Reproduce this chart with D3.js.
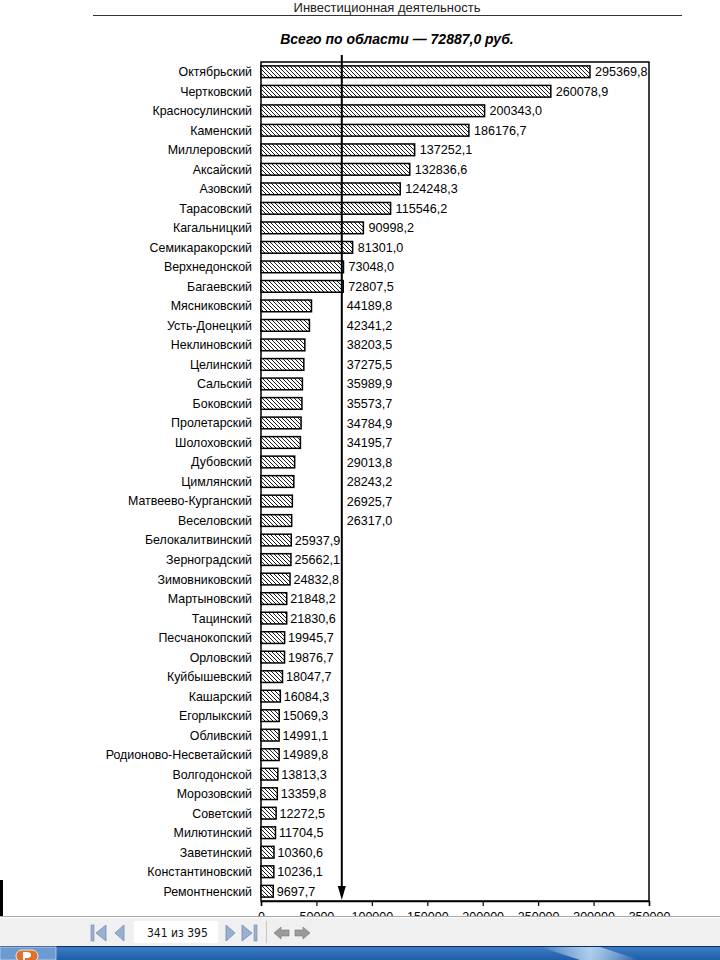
<!DOCTYPE html>
<html><head><meta charset="utf-8">
<script src="https://cdn.jsdelivr.net/npm/d3@7"></script>
<style>html,body{margin:0;padding:0;background:#fff;}svg{display:block;}</style>
</head><body>
<script>
const districts = ["Октябрьский","Чертковский","Красносулинский","Каменский","Миллеровский","Аксайский","Азовский","Тарасовский","Кагальницкий","Семикаракорский","Верхнедонской","Багаевский","Мясниковский","Усть-Донецкий","Неклиновский","Целинский","Сальский","Боковский","Пролетарский","Шолоховский","Дубовский","Цимлянский","Матвеево-Курганский","Веселовский","Белокалитвинский","Зерноградский","Зимовниковский","Мартыновский","Тацинский","Песчанокопский","Орловский","Куйбышевский","Кашарский","Егорлыкский","Обливский","Родионово-Несветайский","Волгодонской","Морозовский","Советский","Милютинский","Заветинский","Константиновский","Ремонтненский"];
const values = [295369.8,260078.9,200343.0,186176.7,137252.1,132836.6,124248.3,115546.2,90998.2,81301.0,73048.0,72807.5,44189.8,42341.2,38203.5,37275.5,35989.9,35573.7,34784.9,34195.7,29013.8,28243.2,26925.7,26317.0,25937.9,25662.1,24832.8,21848.2,21830.6,19945.7,19876.7,18047.7,16084.3,15069.3,14991.1,14989.8,13813.3,13359.8,12272.5,11704.5,10360.6,10236.1,9697.7];
const regionAverage = 72887.0;
const xTicks = [0,50000,100000,150000,200000,250000,300000,350000];
const headerText = "Инвестиционная деятельность";
const titleText = "Всего по области — 72887,0 руб.";
const pageText = "341 из 395";

const W = 720, H = 960;
const svg = d3.select("body").append("svg").attr("width", W).attr("height", H);
const font = "'Liberation Sans', Arial, sans-serif";

const defs = svg.append("defs");
const pat = defs.append("pattern").attr("id","hatch").attr("patternUnits","userSpaceOnUse")
  .attr("width",4).attr("height",4);
pat.append("rect").attr("width",4).attr("height",4).attr("fill","#fff");
pat.append("path").attr("d","M-1,-1L5,5M3,-1L5,1M-1,3L1,5").attr("stroke","#000").attr("stroke-width",0.9);

const x = d3.scaleLinear().domain([0,350000]).range([261,649]);
const y = d3.scaleBand().domain(districts).range([62,901]).paddingInner(0.4).paddingOuter(0.2);

// header
svg.append("text").attr("x",387).attr("y",12).attr("text-anchor","middle")
  .attr("font-family",font).attr("font-size",13).attr("fill","#222").text(headerText);
svg.append("line").attr("x1",93).attr("x2",682).attr("y1",15.5).attr("y2",15.5).attr("stroke","#333").attr("stroke-width",1);
svg.append("text").attr("x",397).attr("y",44).attr("text-anchor","middle")
  .attr("font-family",font).attr("font-size",14).attr("font-weight","bold").attr("font-style","italic").text(titleText);

// frame
svg.append("rect").attr("x",261).attr("y",62).attr("width",388).attr("height",839)
  .attr("fill","none").attr("stroke","#000").attr("stroke-width",1.5);

// bars
const data = districts.map((d,i)=>({name:d, value:values[i]}));
svg.append("g").selectAll("rect").data(data).join("rect")
  .attr("x",x(0)).attr("y",d=>y(d.name)).attr("width",d=>x(d.value)-x(0)+1.5).attr("height",y.bandwidth())
  .attr("fill","url(#hatch)").attr("stroke","#000").attr("stroke-width",1.5);

// category labels
svg.append("g").selectAll("text").data(data).join("text")
  .attr("x",252).attr("y",d=>y(d.name)+y.bandwidth()/2).attr("dy","0.36em").attr("text-anchor","end")
  .attr("font-family",font).attr("font-size",12.4).text(d=>d.name);

// value labels
const fmt = v => d3.format(".1f")(v).replace(".",",");
svg.append("g").selectAll("text").data(data).join("text")
  .attr("x",d=> d.value >= 26000 ? Math.max(x(d.value)+1.5, x(regionAverage)) + 5 : x(d.value) + 5)
  .attr("y",d=>y(d.name)+y.bandwidth()/2).attr("dy","0.36em")
  .attr("font-family",font).attr("font-size",12.6).text(d=>fmt(d.value));

// average arrow
const ax = x(regionAverage);
svg.append("line").attr("x1",ax).attr("x2",ax).attr("y1",55).attr("y2",890).attr("stroke","#000").attr("stroke-width",2);
svg.append("path").attr("d",`M${ax-4},886L${ax+4},886L${ax},900Z`).attr("fill","#000");

// x axis
const axisG = svg.append("g").attr("transform","translate(0,901)")
  .call(d3.axisBottom(x).tickValues(xTicks).tickSize(5).tickPadding(6).tickFormat(d=>String(d)));
axisG.select(".domain").attr("stroke","#000").attr("stroke-width",1.5);
axisG.selectAll(".tick line").attr("stroke","#000").attr("stroke-width",1.2);
axisG.selectAll("text").attr("font-family",font).attr("font-size",12.5).attr("fill","#000");

// viewer toolbar overlay
svg.append("rect").attr("x",0).attr("y",916).attr("width",W).attr("height",30).attr("fill","#f0f0f0");
svg.append("line").attr("x1",0).attr("x2",W).attr("y1",916.5).attr("y2",916.5).attr("stroke","#a8a8a8");
svg.append("line").attr("x1",0).attr("x2",W).attr("y1",917.5).attr("y2",917.5).attr("stroke","#ffffff");
svg.append("rect").attr("x",0).attr("y",880).attr("width",3).attr("height",36).attr("fill","#000");
const ic = "#9ab0cf", icS = "#6f8cb6";
// first
svg.append("rect").attr("x",91).attr("y",925).attr("width",3).attr("height",16).attr("fill",ic).attr("stroke",icS).attr("stroke-width",0.6);
svg.append("path").attr("d","M106,925L96,933L106,941Z").attr("fill",ic).attr("stroke",icS).attr("stroke-width",0.8);
// prev
svg.append("path").attr("d","M124,925L115,933L124,941Z").attr("fill",ic).attr("stroke",icS).attr("stroke-width",0.8);
// page box
svg.append("rect").attr("x",134).attr("y",921).attr("width",84).attr("height",22).attr("fill","#fff");
svg.append("text").attr("x",147).attr("y",937).attr("font-family","'DejaVu Sans Condensed','Liberation Sans Narrow',sans-serif").attr("font-size",12).attr("fill","#111").text(pageText);
// next
svg.append("path").attr("d","M226,925L235,933L226,941Z").attr("fill",ic).attr("stroke",icS).attr("stroke-width",0.8);
// last
svg.append("path").attr("d","M242,925L252,933L242,941Z").attr("fill",ic).attr("stroke",icS).attr("stroke-width",0.8);
svg.append("rect").attr("x",254).attr("y",925).attr("width",3).attr("height",16).attr("fill",ic).attr("stroke",icS).attr("stroke-width",0.6);
svg.append("line").attr("x1",266.5).attr("x2",266.5).attr("y1",921).attr("y2",943).attr("stroke","#c8c8c8");
// back / forward arrows
svg.append("path").attr("d","M274,933L281,927L281,930L289,930L289,936L281,936L281,939Z").attr("fill","#9a9a9a").attr("stroke","#777").attr("stroke-width",0.6);
svg.append("path").attr("d","M310,933L303,927L303,930L295,930L295,936L303,936L303,939Z").attr("fill","#9a9a9a").attr("stroke","#777").attr("stroke-width",0.6);

// taskbar
const tg = defs.append("linearGradient").attr("id","task").attr("x1",0).attr("x2",0).attr("y1",0).attr("y2",1);
tg.append("stop").attr("offset",0).attr("stop-color","#3f7fc4");
tg.append("stop").attr("offset",1).attr("stop-color","#1f5ea8");
svg.append("rect").attr("x",0).attr("y",946).attr("width",W).attr("height",14).attr("fill","url(#task)");
svg.append("line").attr("x1",0).attr("x2",W).attr("y1",946.5).attr("y2",946.5).attr("stroke","#0d2f5e");
const sg = defs.append("linearGradient").attr("id","streak").attr("x1",0).attr("x2",1);
sg.append("stop").attr("offset",0).attr("stop-color","#fff").attr("stop-opacity",0);
sg.append("stop").attr("offset",0.5).attr("stop-color","#cfe6fb").attr("stop-opacity",0.8);
sg.append("stop").attr("offset",1).attr("stop-color","#fff").attr("stop-opacity",0);
svg.append("path").attr("d","M540,947L600,947L640,960L580,960Z").attr("fill","url(#streak)");
svg.append("rect").attr("x",0).attr("y",947).attr("width",56).attr("height",13).attr("fill","#6d9bd0").attr("stroke","#b9d3ee").attr("stroke-width",0.8);
svg.append("rect").attr("x",16).attr("y",950).attr("width",22).attr("height",12).attr("rx",6).attr("fill","#e0702a").attr("stroke","#fff").attr("stroke-width",0.8);
svg.append("path").attr("d","M23,960L23,952L27,952Q31,952 31,955Q31,958 27,958L25,958L25,960Z").attr("fill","#fff");
</script>
</body></html>
